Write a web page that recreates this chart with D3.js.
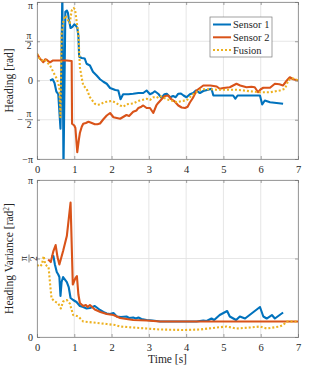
<!DOCTYPE html>
<html>
<head>
<meta charset="utf-8">
<script src="https://cdn.jsdelivr.net/npm/d3@7"></script>
<style>
  body { margin: 0; background: #fff; }
  text { font-family: "Liberation Serif", "DejaVu Serif", serif; fill: #262626; }
</style>
</head>
<body>
<svg id="chart" width="314" height="369"></svg>
<script>
// ---- data: [time s, value] ----
const timeTicks = [0, 1, 2, 3, 4, 5, 6, 7];
const seriesNames = ["Sensor 1", "Sensor 2", "Fusion"];
const seriesColors = ["#0072BD", "#D95319", "#EDB120"];

const sensor1Heading = [[0.35,0],[0.42,0.05],[0.47,-0.1],[0.52,-0.45],[0.57,-0.55],[0.63,-1.93],[0.68,3.6],[0.71,-3.6],[0.76,2.75],[0.8,2.8],[0.83,2.7],[0.86,2.4],[0.9,2.1],[0.95,2.15],[1.0,2.25],[1.04,2.2],[1.08,2.1],[1.11,1.8],[1.13,0.95],[1.2,0.9],[1.28,0.88],[1.33,0.67],[1.42,0.6],[1.5,0.35],[1.6,0.2],[1.69,0.05],[1.78,-0.05],[1.87,-0.13],[1.96,-0.3],[2.1,-0.38],[2.18,-0.4],[2.24,-0.75],[2.31,-0.55],[2.45,-0.55],[2.58,-0.53],[2.72,-0.5],[2.85,-0.5],[2.94,-0.4],[3.03,-0.55],[3.1,-0.5],[3.16,-0.43],[3.25,-0.53],[3.34,-0.69],[3.42,-0.55],[3.48,-0.53],[3.57,-0.67],[3.65,-0.62],[3.72,-0.67],[3.79,-0.53],[3.86,-0.52],[3.93,-0.6],[4.01,-0.67],[4.1,-0.55],[4.19,-0.5],[4.26,-0.4],[4.37,-0.5],[4.46,-0.42],[4.59,-0.37],[4.68,-0.33],[4.73,-0.6],[5.0,-0.6],[5.26,-0.6],[5.32,-0.73],[5.38,-0.6],[5.7,-0.6],[5.98,-0.6],[6.04,-0.96],[6.11,-0.8],[6.25,-0.87],[6.6,-0.93]];

const sensor2Heading = [[0,1.07],[0.08,0.87],[0.13,0.8],[0.17,0.73],[0.22,0.85],[0.26,0.83],[0.32,0.75],[0.35,0.73],[0.42,0.8],[0.5,0.8],[0.6,0.8],[0.7,0.8],[0.8,0.8],[0.93,0.78],[0.94,-1.73],[1.0,-1.8],[1.03,-1.9],[1.08,-2.87],[1.12,-2.4],[1.15,-2.1],[1.2,-1.85],[1.24,-1.73],[1.31,-1.7],[1.38,-1.65],[1.47,-1.7],[1.55,-1.75],[1.62,-1.75],[1.69,-1.72],[1.78,-1.55],[1.87,-1.4],[1.96,-1.3],[2.05,-1.47],[2.14,-1.5],[2.23,-1.53],[2.32,-1.45],[2.4,-1.38],[2.47,-1.42],[2.58,-1.25],[2.67,-1.2],[2.72,-1.1],[2.8,-1.05],[2.85,-1.0],[2.94,-1.1],[3.03,-1.1],[3.12,-1.3],[3.2,-1.0],[3.25,-0.9],[3.34,-0.75],[3.43,-0.62],[3.52,-0.6],[3.6,-0.75],[3.7,-0.85],[3.79,-1.0],[3.88,-1.08],[3.97,-1.1],[4.04,-1.05],[4.1,-0.88],[4.18,-0.7],[4.28,-0.4],[4.37,-0.3],[4.46,-0.2],[4.55,-0.2],[4.65,-0.2],[4.82,-0.24],[4.9,-0.33],[5.0,-0.3],[5.17,-0.27],[5.35,-0.13],[5.45,-0.2],[5.62,-0.27],[5.75,-0.25],[5.84,-0.27],[5.93,-0.47],[6.0,-0.35],[6.07,-0.29],[6.25,-0.29],[6.38,-0.13],[6.5,-0.15],[6.6,-0.2],[6.7,0],[6.78,0.13],[6.87,0.05],[6.95,0.02],[7.0,0]];

const fusionHeading = [[0,1.07],[0.06,0.9],[0.13,0.8],[0.2,0.85],[0.26,0.75],[0.35,0.6],[0.44,0.33],[0.53,0.07],[0.6,-0.27],[0.63,-1.47],[0.66,1.87],[0.71,2.4],[0.76,2.6],[0.8,2.5],[0.85,2.35],[0.88,2.3],[0.93,2.8],[0.98,2.9],[1.02,2.85],[1.06,2.4],[1.11,1.87],[1.15,0.53],[1.2,0.1],[1.24,-0.2],[1.33,-0.33],[1.42,-0.67],[1.55,-0.93],[1.62,-0.97],[1.69,-0.96],[1.78,-0.88],[1.87,-0.85],[2.0,-0.82],[2.1,-0.88],[2.23,-1.0],[2.32,-1.05],[2.4,-0.95],[2.58,-0.92],[2.67,-0.85],[2.76,-0.8],[2.94,-0.73],[3.03,-0.78],[3.12,-0.67],[3.2,-0.7],[3.3,-0.62],[3.48,-0.75],[3.6,-0.8],[3.75,-0.87],[3.88,-0.82],[4.01,-0.8],[4.1,-0.67],[4.19,-0.55],[4.28,-0.47],[4.37,-0.38],[4.46,-0.35],[4.64,-0.35],[4.82,-0.37],[5.0,-0.37],[5.17,-0.37],[5.35,-0.37],[5.55,-0.4],[5.71,-0.43],[5.85,-0.45],[5.98,-0.47],[6.1,-0.47],[6.25,-0.47],[6.4,-0.43],[6.51,-0.4],[6.65,-0.33],[6.74,0],[6.83,0.1],[6.92,0.05],[7.0,0]];

const sensor1Var = [[0.39,1.62],[0.44,1.62],[0.48,1.45],[0.53,1.3],[0.57,1.25],[0.6,1.2],[0.63,0.82],[0.66,1.1],[0.7,1.2],[0.75,1.15],[0.8,1.1],[0.85,1.0],[0.9,0.78],[0.97,0.74],[1.06,0.7],[1.15,0.62],[1.24,0.6],[1.33,0.57],[1.42,0.58],[1.55,0.62],[1.62,0.58],[1.69,0.54],[1.78,0.5],[1.87,0.47],[1.96,0.46],[2.05,0.48],[2.14,0.41],[2.25,0.4],[2.4,0.41],[2.47,0.38],[2.58,0.39],[2.65,0.37],[2.72,0.39],[2.8,0.36],[2.94,0.34],[3.1,0.33],[3.3,0.31],[3.48,0.31],[3.7,0.31],[3.92,0.31],[4.1,0.31],[4.28,0.31],[4.46,0.33],[4.55,0.32],[4.68,0.37],[4.75,0.34],[4.9,0.44],[5.1,0.52],[5.17,0.41],[5.34,0.34],[5.44,0.41],[5.58,0.37],[5.98,0.6],[6.07,0.41],[6.16,0.37],[6.3,0.44],[6.38,0.37],[6.6,0.49]];

const sensor2Var = [[0.3,1.55],[0.37,1.5],[0.44,1.72],[0.5,1.84],[0.55,1.6],[0.6,1.45],[0.7,1.72],[0.8,2.02],[0.9,2.69],[0.96,1.05],[1.03,1.18],[1.07,1.22],[1.11,0.85],[1.15,0.68],[1.24,0.62],[1.31,0.64],[1.36,0.6],[1.42,0.64],[1.55,0.55],[1.7,0.5],[1.87,0.46],[2.05,0.44],[2.23,0.38],[2.4,0.36],[2.58,0.34],[2.94,0.33],[3.3,0.31],[4,0.31],[5,0.31],[6,0.31],[7,0.31]];

const fusionVar = [[0,1.44],[0.08,1.41],[0.13,1.45],[0.18,1.62],[0.22,1.45],[0.27,1.42],[0.31,1.4],[0.35,1.07],[0.39,0.77],[0.48,0.71],[0.57,0.67],[0.64,0.57],[0.7,0.71],[0.8,0.74],[0.88,0.67],[0.97,0.44],[1.11,0.41],[1.24,0.31],[1.51,0.29],[1.87,0.26],[2.09,0.24],[2.23,0.21],[2.58,0.19],[2.94,0.17],[3.3,0.15],[3.92,0.14],[4.37,0.15],[4.82,0.19],[5.09,0.21],[5.35,0.17],[5.71,0.19],[5.98,0.21],[6.16,0.17],[6.51,0.21],[6.6,0.24],[6.7,0.31],[7,0.31]];

const PI = Math.PI;
// tick labels: num over den (null den = plain)
const headingTicks = [
  { v: -PI, sign: "\u2212", num: "\u03c0", den: null },
  { v: -PI / 2, sign: "\u2212", num: "\u03c0", den: "2" },
  { v: 0, sign: "", num: "0", den: null },
  { v: PI / 2, sign: "", num: "\u03c0", den: "2" },
  { v: PI, sign: "", num: "\u03c0", den: null }
];
const varianceTicks = [
  { v: 0, sign: "", num: "0", den: null },
  { v: PI / 2, sign: "", num: "\u03c0", den: "2", rotated: true },
  { v: PI, sign: "", num: "\u03c0", den: null }
];

const svg = d3.select("#chart");
const gridColor = "#e0e0e0";
const axisColor = "#7a7a7a";

const x = d3.scaleLinear().domain([0, 7]).range([37, 298]);

function drawPanel(opts) {
  const y = d3.scaleLinear().domain(opts.domain).range([opts.bottom, opts.top]);
  const g = svg.append("g");
  const clipId = opts.id + "-clip";
  svg.append("clipPath").attr("id", clipId)
    .append("rect")
    .attr("x", x(0)).attr("y", opts.top)
    .attr("width", x(7) - x(0)).attr("height", opts.bottom - opts.top);

  // grid
  g.selectAll(".gx").data(timeTicks).enter().append("line")
    .attr("x1", d => x(d)).attr("x2", d => x(d))
    .attr("y1", opts.top).attr("y2", opts.bottom)
    .attr("stroke", gridColor).attr("stroke-width", 0.8);
  g.selectAll(".gy").data(opts.ticks).enter().append("line")
    .attr("x1", x(0)).attr("x2", x(7))
    .attr("y1", d => y(d.v)).attr("y2", d => y(d.v))
    .attr("stroke", gridColor).attr("stroke-width", 0.8);

  // series
  const line = d3.line().x(d => x(d[0])).y(d => y(d[1]));
  const lines = g.append("g").attr("clip-path", `url(#${clipId})`);
  opts.series.forEach((s, i) => {
    lines.append("path")
      .attr("d", line(s))
      .attr("fill", "none")
      .attr("stroke", seriesColors[i])
      .attr("stroke-width", 2.1)
      .attr("stroke-linejoin", "round")
      .attr("stroke-dasharray", i === 2 ? "2,2" : null);
  });

  // axes: inward ticks on all sides
  const axB = d3.axisBottom(x).tickValues(timeTicks).tickSize(-3).tickPadding(7).tickFormat(d3.format("d"));
  const axT = d3.axisTop(x).tickValues(timeTicks).tickSize(-3).tickFormat("");
  const axL = d3.axisLeft(y).tickValues(opts.ticks.map(d => d.v)).tickSize(-3).tickFormat("");
  const axR = d3.axisRight(y).tickValues(opts.ticks.map(d => d.v)).tickSize(-3).tickFormat("");

  const gb = g.append("g").attr("transform", `translate(0,${opts.bottom})`).call(axB);
  g.append("g").attr("transform", `translate(0,${opts.top})`).call(axT);
  g.append("g").attr("transform", `translate(${x(0)},0)`).call(axL);
  g.append("g").attr("transform", `translate(${x(7)},0)`).call(axR);
  g.selectAll(".domain").attr("stroke", axisColor).attr("stroke-width", 0.7);
  g.selectAll(".tick line").attr("stroke", axisColor).attr("stroke-width", 0.7);
  gb.selectAll("text").attr("font-size", 10.5).attr("fill", "#262626")
    .style("font-family", '"Liberation Serif", serif');

  // y tick labels (fractions of pi)
  opts.ticks.forEach(t => {
    const ty = y(t.v);
    const lg = g.append("g");
    if (t.den) {
      const cx = 29;
      const fr = lg.append("g");
      fr.append("text").attr("x", cx).attr("y", ty - 2.5).attr("text-anchor", "middle")
        .attr("font-size", 9.5).text(t.num);
      fr.append("line").attr("x1", cx - 4).attr("x2", cx + 4)
        .attr("y1", ty).attr("y2", ty).attr("stroke", "#262626").attr("stroke-width", 0.6);
      fr.append("text").attr("x", cx).attr("y", ty + 8).attr("text-anchor", "middle")
        .attr("font-size", 9.5).text(t.den);
      if (t.rotated) fr.attr("transform", `rotate(-90,${cx},${ty})`);
      if (t.sign) {
        lg.append("text").attr("x", cx - 6).attr("y", ty + 3).attr("text-anchor", "end")
          .attr("font-size", 10).text(t.sign);
      }
    } else {
      const yy = Math.max(ty + 3.5, 8.5);
      lg.append("text").attr("x", 33).attr("y", yy).attr("text-anchor", "end")
        .attr("font-size", 10).text(t.sign + t.num);
    }
  });

  // y label
  svg.append("text")
    .attr("transform", `translate(${opts.labelX},${(opts.top + opts.bottom) / 2}) rotate(-90)`)
    .attr("text-anchor", "middle")
    .attr("font-size", 11.5)
    .html(opts.label);
  return y;
}

drawPanel({
  id: "heading", top: 2, bottom: 159, domain: [-PI, PI], ticks: headingTicks,
  series: [sensor1Heading, sensor2Heading, fusionHeading],
  label: "Heading [rad]", labelX: 13
});

drawPanel({
  id: "variance", top: 180, bottom: 337, domain: [0, PI], ticks: varianceTicks,
  series: [sensor1Var, sensor2Var, fusionVar],
  label: 'Heading Variance [rad<tspan dy="-4" font-size="7.5">2</tspan><tspan dy="4">]</tspan>', labelX: 13
});

// x label
svg.append("text").attr("x", (x(0) + x(7)) / 2).attr("y", 363)
  .attr("text-anchor", "middle").attr("font-size", 11.5).text("Time [s]");

// legend
const legend = svg.append("g").attr("transform", "translate(210,17)");
legend.append("rect").attr("width", 62).attr("height", 40)
  .attr("fill", "#fff").attr("stroke", axisColor).attr("stroke-width", 0.7);
seriesNames.forEach((name, i) => {
  const ly = 7.5 + i * 12.8;
  legend.append("line").attr("x1", 3).attr("x2", 21).attr("y1", ly).attr("y2", ly)
    .attr("stroke", seriesColors[i]).attr("stroke-width", 2)
    .attr("stroke-dasharray", i === 2 ? "2,2" : null);
  legend.append("text").attr("x", 23).attr("y", ly + 3.5).attr("font-size", 10.5).text(name);
});
</script>
</body>
</html>
